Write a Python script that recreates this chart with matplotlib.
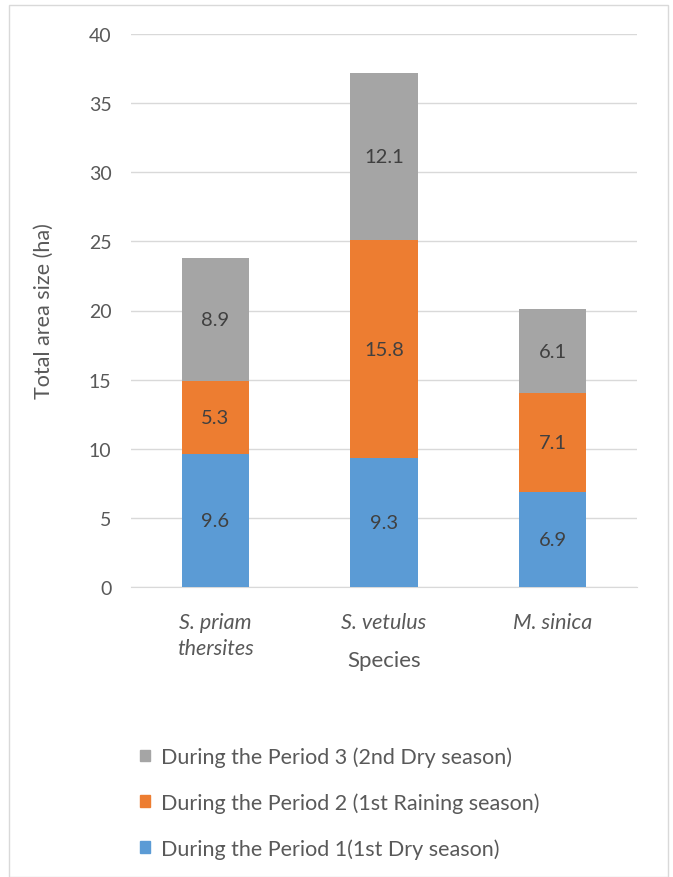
import matplotlib.pyplot as plt
from matplotlib.patches import Rectangle, Patch
import numpy as np

plt.rcParams['font.family'] = ['Lato', 'DejaVu Sans']

species = ['S. priam\nthersites', 'S. vetulus', 'M. sinica']
period1 = [9.6, 9.3, 6.9]
period2 = [5.3, 15.8, 7.1]
period3 = [8.9, 12.1, 6.1]
labels = ['During the Period 1(1st Dry season)',
          'During the Period 2 (1st Raining season)',
          'During the Period 3 (2nd Dry season)']
colors = ['#5b9bd5', '#ed7d31', '#a5a5a5']

txt = '#595959'

fig = plt.figure(figsize=(6.73, 8.78), dpi=100)
fig.patches.append(Rectangle((9/673, 0), 659/673, 1 - 6/878, transform=fig.transFigure,
                             fill=False, edgecolor='#d9d9d9', linewidth=1))
ax = fig.add_axes([131/673, 1 - 588/878, 506/673, 553/878])

x = np.arange(len(species))
bottom = np.zeros(len(species))
for vals, c in zip([period1, period2, period3], colors):
    bars = ax.bar(x, vals, 0.4, bottom=bottom, color=c, zorder=3)
    for xi, b, v in zip(x, bottom, vals):
        ax.text(xi, b + v / 2, f'{v}', ha='center', va='center', fontsize=14.5, color='#404040', zorder=4)
    bottom = bottom + np.array(vals)

ax.set_xlim(-0.5, 2.5)
ax.set_ylim(0, 40)
ax.set_yticks(range(0, 41, 5))
ax.grid(axis='y', color='#d9d9d9', linewidth=1, zorder=0)
for s in ['top', 'right', 'left']:
    ax.spines[s].set_visible(False)
ax.spines['bottom'].set_color('#d9d9d9')
ax.tick_params(axis='both', length=0, labelsize=14, colors=txt)
ax.tick_params(axis='y', pad=14)
ax.tick_params(axis='x', pad=18, labelsize=15.5)
ax.set_xticks(x)
ax.set_xticklabels(species, fontstyle='italic', linespacing=1.4)
ax.set_ylabel('Total area size (ha)', fontsize=15.5, color=txt, labelpad=25)
ax.set_xlabel('Species', fontsize=16, color=txt, labelpad=-6)

handles = [Patch(color=c) for c in colors][::-1]
fig.legend(handles, labels[::-1], loc='upper left', bbox_to_anchor=(121/673, 1 - 728/878),
           frameon=False, fontsize=15.5, labelcolor=txt, handlelength=0.45, handleheight=0.45,
           handletextpad=0.5, labelspacing=1.17)

fig.savefig('out.png', dpi=100)
